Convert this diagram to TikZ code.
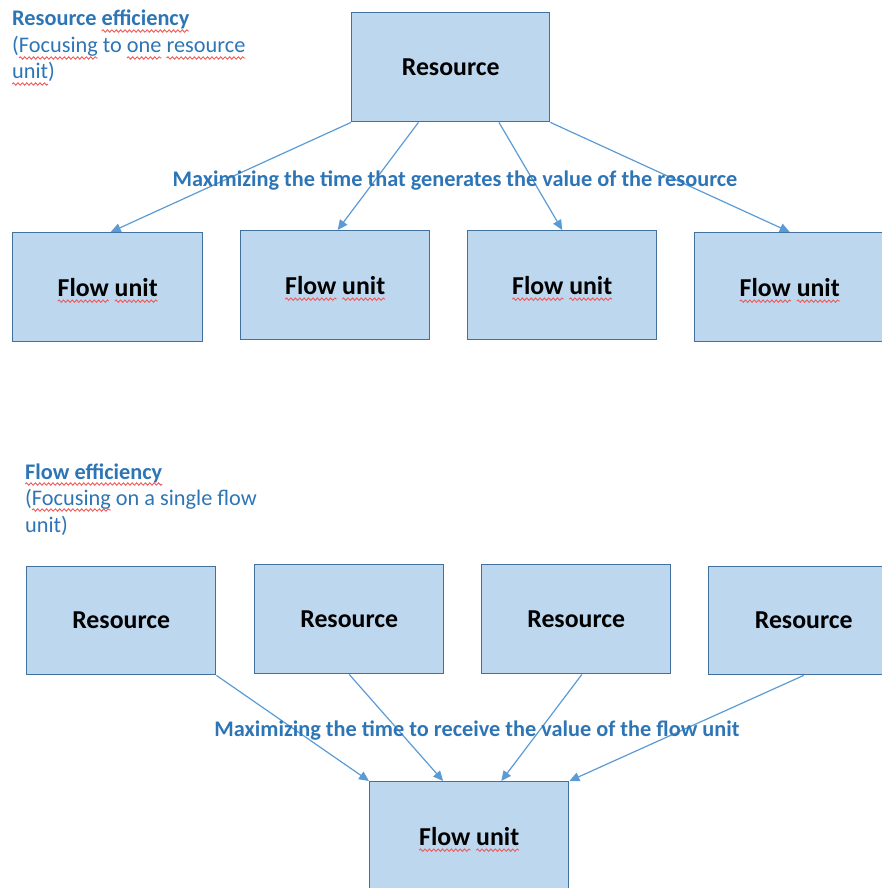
\documentclass[tikz,border=0pt]{standalone}
\usepackage{fontspec}
\setmainfont{Carlito}
\usetikzlibrary{arrows.meta,calc,decorations.pathmorphing}

\definecolor{boxfill}{HTML}{BDD7EE}
\definecolor{boxline}{HTML}{41719C}
\definecolor{linkblue}{HTML}{5B9BD5}
\definecolor{textblue}{HTML}{2E75B6}
\definecolor{spellred}{HTML}{F05A5A}

% red wavy underline for flagged words
\newsavebox\spellbox
\newcommand\spellwave[1]{%
  \sbox\spellbox{#1}%
  \rlap{\usebox\spellbox}%
  \tikz[baseline=0pt]{%
    \useasboundingbox (0pt,0pt) rectangle (\wd\spellbox,\ht\spellbox);
    \draw[spellred, line width=0.9pt, decorate,
      decoration={snake, amplitude=1.2pt, segment length=4.4pt}]
      (0pt,-5pt) -- (\wd\spellbox,-5pt);}}

\tikzset{
  box/.style={draw=boxline, fill=boxfill, line width=1.4pt, inner sep=0pt,
    anchor=north west, text=black, font=\fontsize{25.8}{30}\selectfont\bfseries},
  link/.style={draw=linkblue, line width=1.2pt, -{Triangle[length=10pt,width=9pt]}},
  caption/.style={text=textblue, inner sep=0pt, font=\fontsize{22.3}{26}\selectfont\bfseries},
  heading/.style={text=textblue, inner sep=0pt, anchor=base west, font=\fontsize{22.3}{26}\selectfont},
}

\begin{document}
\begin{tikzpicture}[x=1pt,y=-1pt]
\useasboundingbox (0,0) rectangle (881,888);

% ---------- resource efficiency ----------
\node[heading] (h1a) at (12,26) {\bfseries Resource \spellwave{efficiency}};
\node[heading] (h1b) at (12,53) {(\spellwave{Focusing} to \spellwave{one} \spellwave{resource}};
\node[heading] (h1c) at (12,79) {\spellwave{unit})};

\node[box, minimum width=198pt, minimum height=109pt] (res) at (351,12) {Resource};

\node[box, minimum width=190pt, minimum height=109pt] (f1) at (12,232) {\spellwave{Flow} \spellwave{unit}};
\node[box, minimum width=189pt, minimum height=109pt] (f2) at (240,230) {\spellwave{Flow} \spellwave{unit}};
\node[box, minimum width=189pt, minimum height=109pt] (f3) at (467,230) {\spellwave{Flow} \spellwave{unit}};
\node[box, minimum width=190pt, minimum height=109pt] (f4) at (694,232) {\spellwave{Flow} \spellwave{unit}};

\draw[link] (res.south west) -- ($(f1.north west)!0.516!(f1.north east)$);
\draw[link] ($(res.south west)!0.338!(res.south east)$) -- ($(f2.north west)!0.513!(f2.north east)$);
\draw[link] ($(res.south west)!0.742!(res.south east)$) -- (f3.north);
\draw[link] (res.south east) -- (f4.north);

\node[caption, anchor=base] (c1) at (455,186) {Maximizing the time that generates the value of the resource};

% ---------- flow efficiency ----------
\node[heading] (h2a) at (25,479) {\bfseries\spellwave{Flow efficiency}};
\node[heading] (h2b) at (25,505) {(\spellwave{Focusing} on a single flow};
\node[heading] (h2c) at (25,532) {unit)};

\node[box, minimum width=189pt, minimum height=108pt] (r1) at (26,566) {Resource};
\node[box, minimum width=189pt, minimum height=109pt] (r2) at (254,564) {Resource};
\node[box, minimum width=189pt, minimum height=109pt] (r3) at (481,564) {Resource};
\node[box, minimum width=190pt, minimum height=108pt] (r4) at (708,566) {Resource};

\node[box, minimum width=199pt, minimum height=109pt] (u) at (369,781) {\spellwave{Flow} \spellwave{unit}};

\draw[link] (r1.south east) -- (u.north west);
\draw[link] (r2.south) -- ($(u.north west)!0.37!(u.north east)$);
\draw[link] ($(r3.south west)!0.53!(r3.south east)$) -- ($(u.north west)!0.66!(u.north east)$);
\draw[link] (r4.south) -- (u.north east);

\node[caption, anchor=base] (c2) at (477,736) {Maximizing the time to receive the value of the flow unit};
\end{tikzpicture}
\end{document}
